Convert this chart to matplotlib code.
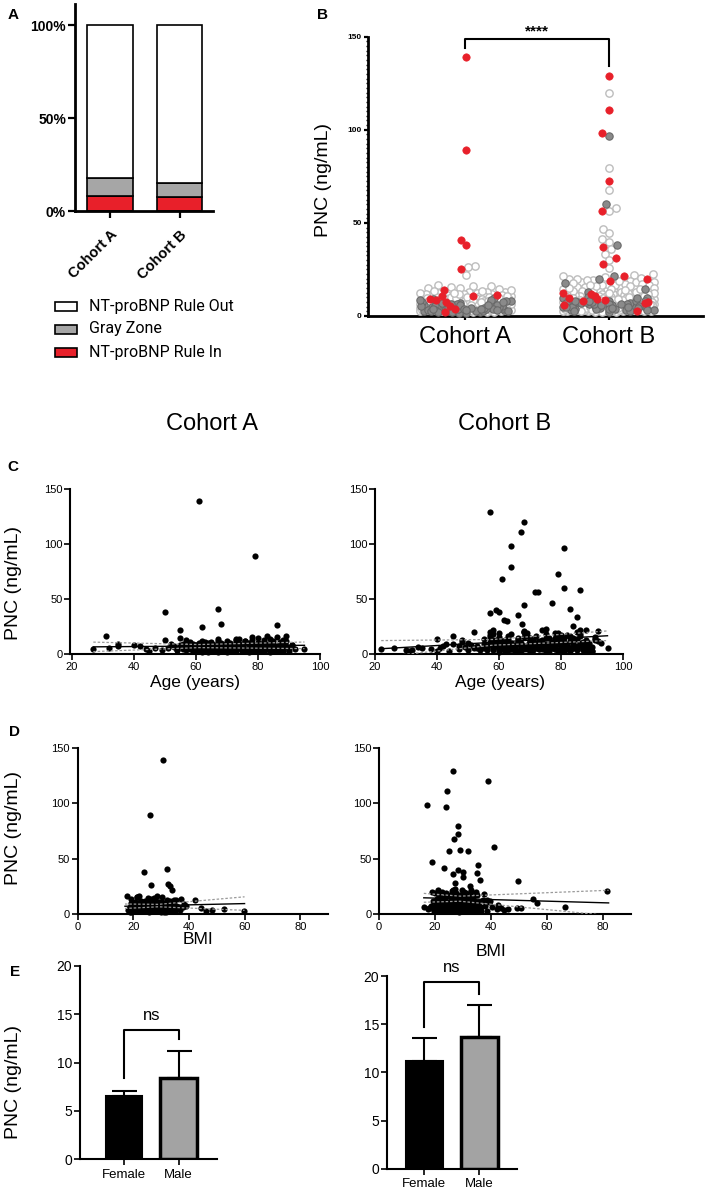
import numpy as np
import matplotlib

matplotlib.use("Agg")
import matplotlib.pyplot as plt
from matplotlib.patches import Rectangle
from matplotlib.ticker import MultipleLocator

plt.rcParams["font.family"] = ["Liberation Sans", "DejaVu Sans"]

# ---- panel A: NT-proBNP categories (% of cohort)
cohorts = ["Cohort A", "Cohort B"]
rule_in = [8.0, 7.5]
gray_zone = [9.6, 7.3]
rule_out = [82.4, 85.2]
legend_labels = ["NT-proBNP Rule Out", "Gray Zone", "NT-proBNP Rule In"]

# ---- per-patient data, cohort A (PNC ng/mL, age, BMI, NT-proBNP group O/G/R)
pnc_a = [139, 89, 41, 38, 27, 26.5, 25, 22, 16.5, 16,
         16, 15.5, 15, 14, 13, 12.5, 12, 11.5, 11, 10.5,
         9.5, 8.2, 7.1, 4.2, 5.8, 6.9, 4.8, 2.3, 5.1, 3.9,
         9.1, 6.3, 3.2, 7.7, 12.8, 4.5, 8.9, 2.8, 6.1, 10.2,
         5.4, 3.6, 7.4, 9.8, 1.9, 5.9, 8.1, 4.1, 11.4, 6.6,
         3.3, 7.9, 5.2, 9.4, 2.6, 6.8, 4.4, 10.8, 5.6, 8.5,
         3.1, 7.2, 4.9, 9.9, 2.1, 6.4, 12.3, 4.7, 8.3, 3.5,
         5.5, 7.6, 10.1, 2.9, 6.2, 4.3, 8.7, 5.3, 3.8, 7.0,
         11.2, 2.5, 6.0, 12.9, 8.0, 5.0, 3.0, 4.0, 4.6, 2.7,
         9.6, 1.5, 6.7, 8.8, 3.4, 5.7, 7.3, 4.6, 9.3, 1.8,
         13.8, 10.6, 6.5, 3.7, 8.4, 5.2, 4.0, 2.2, 9.0, 7.8,
         5.3, 7.6, 3.9, 9.2, 4.4, 6.1, 2.8, 8.5, 5.0, 11.7,
         3.3, 6.9, 4.8, 10.4, 2.4, 7.2, 5.6, 13.2, 3.6, 8.0,
         6.3, 4.1, 9.7, 2.9, 5.8, 12.4, 7.4, 3.2, 6.6, 4.5,
         10.9, 5.1, 8.8, 2.6, 7.0, 4.2, 14.6, 6.0, 3.5, 9.0,
         5.4, 11.1, 4.7, 7.8, 2.0, 6.4, 8.3, 3.7, 15.2, 5.2,
         9.5, 4.0, 6.8, 3.0, 12.0, 7.5, 5.5, 2.7, 8.6, 4.6,
         10.0, 6.2, 3.4, 7.9, 5.9, 13.5, 4.3, 9.8, 6.7, 3.8,
         4.9, 7.3, 2.6, 9.1, 5.7, 3.4, 8.2, 6.0, 10.3, 4.2,
         6.7, 3.0, 8.9, 5.1, 11.6, 2.3, 7.0, 4.5, 9.6, 6.3,
         3.8, 8.4, 5.5, 2.9, 7.7, 4.0, 10.7, 6.5, 3.2, 8.0,
         5.9, 4.7, 9.3, 2.5, 6.9, 3.6, 7.5, 5.3, 12.2, 4.4]
age_a = [61, 79, 67, 50, 68, 86, 62, 55, 31, 89,
         83, 78, 55, 84, 50, 82, 76, 70, 65, 58,
         35, 40, 35, 27, 32, 42, 44, 45, 47, 49,
         52, 53, 54, 56, 57, 58, 59, 60, 60, 61,
         62, 63, 63, 64, 64, 65, 66, 66, 67, 68,
         69, 69, 70, 71, 71, 72, 72, 73, 74, 74,
         75, 75, 76, 77, 77, 78, 78, 79, 80, 80,
         81, 81, 82, 82, 83, 84, 85, 85, 86, 87,
         87, 88, 88, 88, 91, 95, 65, 70, 73, 79,
         68, 62, 57, 74, 66, 81, 60, 76, 84, 70,
         73, 63, 86, 59, 66, 77, 72, 67, 80, 55,
         51, 53, 54, 56, 57, 58, 59, 60, 61, 62,
         62, 63, 64, 65, 65, 66, 67, 67, 68, 69,
         70, 70, 71, 72, 73, 73, 74, 75, 75, 76,
         76, 77, 78, 78, 79, 79, 80, 80, 81, 81,
         82, 82, 83, 83, 84, 84, 85, 85, 86, 86,
         87, 87, 88, 88, 89, 89, 90, 90, 91, 92,
         58, 61, 64, 68, 71, 74, 77, 80, 83, 86,
         56, 59, 61, 63, 64, 66, 67, 69, 70, 71,
         72, 73, 74, 75, 76, 77, 78, 79, 80, 81,
         82, 83, 84, 85, 86, 87, 88, 89, 57, 60,
         62, 65, 68, 70, 73, 76, 79, 82, 85, 88]
bmi_a = [30.7, 25.9, 32.0, 23.7, 32.5, 26.3, 33.2, 33.8, 17.7, 22.0,
         28.5, 30.2, 21.4, 25.1, 35.2, 42.0, 27.3, 24.1, 29.0, 20.6,
         19.2, 26.7, 22.8, 18.5, 24.4, 28.8, 31.6, 23.5, 36.9, 27.8,
         25.4, 30.9, 22.1, 34.4, 26.0, 19.8, 29.5, 24.9, 37.8, 21.9,
         28.2, 33.0, 23.1, 26.6, 31.2, 18.9, 27.5, 35.7, 22.7, 29.9,
         25.2, 32.3, 20.4, 28.1, 24.0, 38.9, 27.0, 30.4, 23.8, 26.2,
         34.9, 21.2, 29.3, 25.7, 31.8, 22.5, 27.9, 19.5, 33.6, 26.4,
         24.6, 30.1, 28.7, 23.3, 36.1, 25.9, 29.6, 22.2, 27.1, 32.7,
         24.3, 30.6, 20.9, 26.8, 28.4, 44.3, 46.1, 48.2, 52.6, 59.8,
         23.6, 19.0, 26.9, 31.4, 28.3, 21.6, 35.3, 25.5, 27.4, 29.8,
         37.0, 24.7, 22.9, 33.9, 20.3, 30.0, 27.6, 25.8, 28.9, 23.0,
         24.2, 27.8, 21.5, 30.3, 19.6, 26.1, 33.4, 23.0, 28.9, 25.4,
         20.8, 31.7, 27.0, 22.6, 29.4, 24.8, 35.6, 26.3, 18.2, 28.1,
         23.7, 30.8, 21.9, 27.3, 25.0, 32.2, 19.9, 26.8, 29.7, 22.4,
         34.1, 24.5, 28.4, 20.3, 31.1, 25.7, 27.6, 23.4, 36.8, 26.0,
         22.0, 29.1, 24.0, 30.0, 18.7, 27.2, 25.3, 33.0, 21.2, 28.6,
         26.5, 23.9, 31.9, 20.1, 27.9, 24.6, 29.2, 22.8, 38.2, 25.9,
         21.7, 28.0, 26.7, 32.8, 23.2, 19.3, 30.6, 25.6, 27.4, 24.3,
         22.4, 27.1, 25.0, 29.7, 20.5, 31.3, 24.2, 26.9, 23.6, 28.3,
         30.9, 21.8, 27.6, 25.4, 33.2, 19.7, 26.1, 28.9, 24.7, 22.9,
         29.5, 25.8, 31.9, 23.1, 27.3, 20.9, 26.4, 30.2, 24.9, 28.6,
         22.3, 32.4, 25.6, 27.9, 21.3, 29.0, 24.1, 26.6, 34.7, 23.9]
grp_a = ("RRRROOROOO" "OOOROOORRR" "OOGOOOGOOO" "ROGROGOGOO" "GOOGOGOGOG"
         "OGOOGOGOGO" "GOGOGOOGOG" "OGOGOGOGOG" "OGOOGOOOOO" "OGOGOGOOOG"
         "OOGORRRROO" "OOGOOOGOOO" "OGOOOOOOGO" "OOOGOOOOOG" "OOOGOOOOGO"
         "OOOOGOOOOO" "OOOGOOOOGO" "OOOOOOGOOO" "OGOOGOOGOO" "OGOOOGOOOO"
         "GOOOOGOOGO" "OOGOOGOOOO")

# ---- per-patient data, cohort B
pnc_b = [128.9, 119.7, 110.9, 98.2, 96.6, 79.4, 72.5, 67.9, 60.0, 57.9,
         56.5, 56.4, 46.6, 44.5, 41.2, 39.7, 37.9, 37.0, 35.8, 33.3,
         31.0, 30.0, 27.7, 25.6, 22.0, 21.7, 21.5, 20.9, 19.9, 19.7,
         18.8, 17.5, 22.5, 20.0, 19.0, 18.0, 16.0, 15.5, 14.7, 13.7,
         13.5, 12.2, 11.8, 10.7, 9.8, 9.1, 8.6, 8.2, 7.7, 6.8,
         5.9, 2.7, 10.0, 6.5, 5.0, 5.2, 4.8, 5.1, 4.0, 2.5,
         3.5, 6.4, 5.3, 4.5, 3.0, 5.6, 7.0, 2.8, 9.5, 4.2,
         10.5, 6.1, 3.6, 8.0, 5.8, 7.5, 4.4, 9.0, 6.6, 3.2,
         11.0, 5.4, 8.7, 2.2, 7.3, 4.9, 12.5, 6.0, 3.8, 9.7,
         5.5, 7.8, 2.9, 10.3, 4.6, 6.9, 14.2, 3.4, 8.4, 5.7,
         11.6, 4.1, 7.1, 2.4, 9.3, 6.2, 13.1, 4.7, 8.9, 3.1,
         5.9, 10.8, 7.4, 4.3, 15.8, 6.3, 3.7, 9.9, 5.1, 12.0,
         7.9, 2.6, 6.7, 14.0, 4.5, 8.1, 3.9, 11.3, 5.0, 6.5,
         13.0, 17.0, 16.5, 18.5, 15.0, 12.8, 9.4, 14.5, 16.8, 11.9,
         6.2, 9.8, 4.1, 12.7, 7.5, 3.3, 15.4, 5.6, 8.9, 2.9,
         11.3, 6.8, 18.2, 4.6, 9.1, 13.9, 3.8, 7.2, 20.5, 5.3,
         10.6, 2.5, 8.3, 16.7, 6.0, 4.3, 12.1, 7.9, 3.1, 14.8,
         5.8, 9.4, 19.1, 6.5, 2.7, 11.8, 8.0, 4.9, 17.3, 7.0,
         3.6, 10.2, 5.1, 13.4, 8.6, 21.6, 4.0, 6.9, 12.9, 9.6,
         3.0, 15.9, 7.7, 5.4, 11.0, 2.3, 8.8, 18.8, 6.3, 4.4,
         14.1, 9.9, 3.5, 7.3, 16.2, 5.0, 10.9, 2.8, 12.3, 6.6,
         4.8, 20.1, 8.2, 3.9, 13.1, 7.4, 5.7, 17.9, 9.2, 2.6,
         11.5, 6.1, 14.4, 4.2, 8.5, 19.6, 3.2, 10.4, 7.1, 5.2,
         5.5, 8.7, 3.3, 11.4, 6.8, 4.1, 13.6, 7.2, 2.9, 9.5,
         6.1, 15.1, 4.7, 8.3, 3.6, 10.1, 5.9, 12.6, 7.6, 2.4,
         9.0, 4.9, 14.3, 6.4, 3.1, 8.1, 11.7, 5.2, 7.0, 16.4,
         4.3, 9.7, 6.6, 3.0, 12.4, 7.9, 5.0, 10.5, 2.7, 8.8]
age_b = [57, 68, 67, 64, 81, 64, 79, 61, 81, 86,
         71.5, 72.5, 77, 68, 83, 59, 60, 57, 66, 85,
         61.5, 62.5, 67.5, 84, 88, 74, 58, 92, 68, 57,
         60, 80, 75, 85, 79, 86, 45, 91, 84, 55,
         40, 66, 92, 70, 62, 75, 82, 69, 58, 73,
         77, 88, 93, 89, 87, 95, 22, 26, 30, 31,
         32, 34, 35, 38, 40, 41, 42, 44, 45, 47,
         48, 49, 50, 51, 52, 53, 54, 55, 56, 56,
         57, 58, 59, 60, 60, 61, 62, 63, 63, 64,
         65, 65, 66, 67, 68, 69, 70, 70, 71, 72,
         73, 74, 74, 75, 76, 77, 78, 78, 79, 80,
         80, 81, 82, 83, 83, 84, 85, 86, 87, 88,
         89, 89, 90, 91, 64, 73, 67, 59, 76, 82,
         71, 57, 63, 75, 66, 48, 43, 81, 69, 61,
         56, 57, 58, 58, 59, 60, 60, 61, 62, 62,
         63, 64, 64, 65, 66, 66, 67, 68, 68, 69,
         70, 70, 71, 72, 72, 73, 74, 74, 75, 76,
         76, 77, 78, 78, 79, 80, 80, 81, 82, 82,
         83, 84, 84, 85, 86, 86, 87, 88, 88, 89,
         90, 57, 59, 61, 63, 65, 67, 69, 71, 73,
         75, 77, 79, 81, 83, 85, 87, 89, 91, 60,
         64, 68, 72, 76, 80, 84, 88, 58, 62, 66,
         70, 74, 78, 82, 86, 52, 54, 50, 47, 53,
         55, 57, 58, 60, 61, 62, 63, 64, 65, 66,
         67, 68, 69, 70, 71, 72, 73, 74, 75, 76,
         77, 78, 79, 80, 81, 82, 83, 84, 85, 86,
         87, 88, 89, 90, 59, 65, 71, 77, 83, 87]
bmi_b = [26.4, 39.0, 24.4, 17.1, 24.0, 28.3, 28.3, 26.8, 41.1, 28.9,
         31.7, 25.1, 19.1, 35.5, 23.3, 28.3, 30.0, 35.1, 26.3, 30.0,
         36.2, 49.6, 27.2, 32.5, 21.0, 33.0, 29.5, 81.5, 22.5, 19.0,
         31.0, 24.5, 27.0, 34.5, 20.0, 37.5, 25.5, 28.0, 30.5, 55.0,
         22.0, 26.0, 29.0, 23.5, 32.0, 27.5, 21.5, 30.5, 25.0, 34.0,
         28.5, 24.0, 56.5, 66.3, 50.8, 49.4, 17.5, 20.0, 23.5, 19.5,
         21.0, 26.5, 24.5, 29.0, 31.0, 27.5, 22.5, 33.5, 25.0, 28.0,
         30.0, 23.0, 36.0, 26.5, 19.5, 31.5, 24.0, 27.0, 29.5, 22.0,
         34.5, 25.5, 20.5, 28.5, 38.0, 26.0, 23.5, 30.0, 32.5, 21.5,
         27.5, 25.0, 35.0, 29.0, 22.5, 26.5, 31.0, 24.5, 28.0, 33.0,
         20.5, 27.0, 25.5, 30.5, 23.0, 36.5, 26.0, 29.5, 22.0, 31.5,
         27.0, 24.5, 28.5, 34.0, 25.5, 21.0, 29.0, 32.0, 26.5, 23.5,
         30.5, 27.5, 22.5, 33.5, 46.0, 42.5, 44.5, 39.5, 18.0, 16.0,
         38.5, 26.5, 29.0, 24.0, 32.5, 27.0, 30.0, 22.0, 35.0, 20.0,
         25.3, 29.8, 22.1, 33.6, 27.4, 19.8, 31.2, 24.6, 28.0, 36.4,
         21.5, 26.9, 30.7, 23.8, 34.9, 27.1, 20.4, 29.3, 25.9, 32.5,
         22.7, 38.6, 26.2, 28.8, 24.0, 31.6, 19.2, 27.7, 35.3, 23.1,
         29.0, 25.5, 21.8, 33.1, 26.6, 30.3, 24.3, 42.0, 27.9, 22.4,
         31.9, 25.1, 28.5, 20.7, 34.2, 26.4, 29.6, 23.5, 37.1, 27.0,
         24.9, 30.9, 21.1, 28.3, 25.7, 33.8, 22.9, 27.6, 40.3, 24.2,
         29.4, 26.0, 31.4, 18.6, 28.1, 23.3, 35.8, 25.8, 30.1, 27.3,
         21.4, 32.9, 26.7, 24.5, 29.9, 22.2, 43.5, 27.5, 25.2, 31.0,
         23.6, 28.7, 20.9, 34.6, 26.3, 30.5, 24.8, 39.2, 27.8, 22.6,
         24.1, 28.6, 21.9, 31.8, 26.2, 23.4, 29.9, 25.6, 33.3, 22.8,
         27.8, 30.4, 24.7, 20.2, 28.2, 26.9, 35.1, 23.0, 29.1, 25.3,
         31.3, 22.5, 27.2, 24.4, 30.0, 26.1, 21.6, 28.9, 33.7, 25.0,
         23.7, 29.5, 27.0, 20.6, 32.0, 24.8, 26.5, 28.4, 22.1, 30.7]
grp_b = ("RORRGOROGO" "ROOOOOGROO" "ROROOGRORG" "RGOOOOOOGO" "ORRRRRRRRR"
         "RROOOOOOGO" "OOGOOOGOOG" "OOGOOGOOGO" "OGOGOGOGOG" "OGOOGOOGOG"
         "OOGOGOOGOG" "OOGOOGOOGO" "OGOOOGOOOG" "OOOOOOOOOO" "OGOOOGOOOO"
         "OOOGOOOOOG" "OOGOOOOGOO" "OOOOGOOOOO" "GOOOOOOGOO" "OOOGOOOOGO"
         "OOGOOOOOOG" "OOOOGOOOOO" "OGOOOOOGOO" "OOGOOGOOOG" "OOOGOOOOGO"
         "OGOOOGOOOO" "GOOOOOGOOO")

# ---- linear fits with 95% bands (panels C and D)
fit_age_a_x = [27, 61, 95]
fit_age_a_y = [6.5, 7.2, 7.9]
fit_age_a_hi = [10.8, 8.6, 10.9]
fit_age_a_lo = [2.2, 5.8, 4.9]
fit_age_b_x = [22, 58, 95]
fit_age_b_y = [4.8, 10.6, 16.6]
fit_age_b_hi = [12.2, 13.2, 21.0]
fit_age_b_lo = [-2.6, 8.0, 12.2]
fit_bmi_a_x = [17, 29, 60]
fit_bmi_a_y = [7.0, 7.6, 9.4]
fit_bmi_a_hi = [9.0, 8.7, 15.5]
fit_bmi_a_lo = [5.0, 6.5, 3.3]
fit_bmi_b_x = [16, 29, 82]
fit_bmi_b_y = [14.6, 13.8, 10.0]
fit_bmi_b_hi = [18.6, 16.1, 21.4]
fit_bmi_b_lo = [10.6, 11.5, -1.4]

# ---- panel E: PNC by sex (mean, SEM)
sexes = ["Female", "Male"]
sex_mean_a = [6.5, 8.45]
sex_err_a = [0.6, 2.75]
sex_mean_b = [11.2, 13.7]
sex_err_b = [2.4, 3.3]

RED = "#e8202a"
GREY = "#a6a6a6"

W, H = 709, 1196


def rect(l, t, r, b):
    return [l / W, 1 - b / H, (r - l) / W, (b - t) / H]


def style(ax, lw=1.5, size=8, length=4):
    for s in ("top", "right"):
        ax.spines[s].set_visible(False)
    for s in ("left", "bottom"):
        ax.spines[s].set_linewidth(lw)
    ax.tick_params(direction="out", length=length, width=lw * 0.8,
                   labelsize=size, pad=1.5)


def swarm_offsets(vals, xppu, yppu, diam, maxw):
    """Simple beeswarm: nearest free horizontal slot, overlap once full."""
    vals = np.asarray(vals, float)
    out = np.zeros(len(vals))
    cand = np.arange(-maxw * xppu, maxw * xppu + 0.01, 1.0)
    cand = cand[np.argsort(np.abs(cand), kind="stable")]
    px, py = [], []
    for i in np.argsort(vals, kind="stable"):
        y = vals[i] * yppu
        if px:
            d = np.hypot(cand[:, None] - np.array(px)[None, :],
                         y - np.array(py)[None, :]).min(axis=1)
            ok = np.nonzero(d >= diam)[0]
            j = ok[0] if len(ok) else int(np.argmax(d))
        else:
            j = 0
        px.append(cand[j])
        py.append(y)
        out[i] = cand[j] / xppu
    return out


fig = plt.figure(figsize=(W / 100, H / 100), dpi=100)

# ---------------- A
ax = fig.add_axes(rect(75, 4, 213, 211))
xa = np.arange(len(cohorts))
bottom = np.zeros(len(cohorts))
for vals, col in zip([rule_in, gray_zone, rule_out], [RED, GREY, "white"]):
    ax.bar(xa, vals, bottom=bottom, width=0.66, color=col, edgecolor="black", lw=1.2)
    bottom += np.array(vals)
ax.set_xlim(-0.504, 1.482)
ax.set_ylim(0, 111.3)
style(ax, lw=2, size=10, length=5)
ax.set_yticks([0, 50, 100], ["0%", "50%", "100%"], fontweight="bold")
ax.set_xticks(xa, cohorts, rotation=45, ha="right", rotation_mode="anchor",
              fontweight="bold", fontsize=10.5)
ax.tick_params(axis="x", pad=7)

lg = fig.add_axes(rect(40, 290, 260, 365))
lg.axis("off")
lg.set_xlim(40, 260)
lg.set_ylim(365, 290)
for i, (lab, col) in enumerate(zip(legend_labels, ["white", GREY, RED])):
    y = 306 + 23 * i
    lg.add_patch(Rectangle((55, y - 4.5), 22, 9, facecolor=col, edgecolor="black", lw=1.2))
    lg.text(89, y, lab, va="center", ha="left", fontsize=11.5, family="Roboto")

# ---------------- B
ax = fig.add_axes(rect(368, 36.7, 703, 316))
ax.set_xlim(-0.68, 1.66)
ax.set_ylim(0, 150)
styles = {
    "O": dict(facecolor="white", edgecolor="#bdbdbd", linewidths=1.0, zorder=3),
    "G": dict(facecolor="#8a8a8a", edgecolor="#6a6a6a", linewidths=0.8, zorder=4),
    "R": dict(facecolor=RED, edgecolor=RED, linewidths=0.5, zorder=5),
}
for k, (pnc, grp) in enumerate([(pnc_a, grp_a), (pnc_b, grp_b)]):
    pnc = np.array(pnc, float)
    xs = k + swarm_offsets(pnc, 143, 1.862, 7.0, 0.32)
    for g, kw in styles.items():
        m = np.array([c == g for c in grp])
        ax.scatter(xs[m], pnc[m], s=28, clip_on=False, **kw)
style(ax, lw=2, size=6, length=3)
ax.set_yticks([0, 50, 100, 150])
ax.yaxis.set_minor_locator(MultipleLocator(2.5))
ax.tick_params(axis="y", which="minor", length=1.8, width=1)
for t in ax.get_yticklabels():
    t.set_fontweight("bold")
ax.set_xticks([0, 1], cohorts)
ax.tick_params(axis="x", labelsize=17, pad=4)
ax.plot([0, 0, 1, 1], [144, 149, 149, 134], color="black", lw=1.5, clip_on=False)
ax.text(0.5, 153, "****", ha="center", va="center", fontsize=11, fontweight="bold")
fig.text(323 / W, 1 - 180 / H, "PNC (ng/mL)", rotation=90, ha="center", va="center", fontsize=14)

# ---------------- column titles
fig.text(212 / W, 1 - 424 / H, "Cohort A", ha="center", va="center", fontsize=17)
fig.text(505 / W, 1 - 424 / H, "Cohort B", ha="center", va="center", fontsize=17)


def scatter_panel(box, xv, yv, fx, fy, fhi, flo, xlim, xticks):
    ax = fig.add_axes(rect(*box))
    ax.scatter(xv, yv, s=20, color="black", linewidths=0, zorder=3, clip_on=False)
    ax.plot(fx, fy, color="black", lw=1, zorder=4)
    ax.plot(fx, fhi, color="#9a9a9a", lw=0.9, ls=(0, (2, 1.5)), zorder=4)
    ax.plot(fx, flo, color="#9a9a9a", lw=0.9, ls=(0, (2, 1.5)), zorder=4)
    ax.set_xlim(*xlim)
    ax.set_ylim(0, 150)
    ax.set_xticks(xticks)
    ax.set_yticks([0, 50, 100, 150])
    style(ax)
    return ax


# ---------------- C
scatter_panel((70, 489, 320, 654), age_a, pnc_a, fit_age_a_x, fit_age_a_y,
              fit_age_a_hi, fit_age_a_lo, (19.5, 100), [20, 40, 60, 80, 100])
scatter_panel((375, 489, 623, 654), age_b, pnc_b, fit_age_b_x, fit_age_b_y,
              fit_age_b_hi, fit_age_b_lo, (20, 100), [20, 40, 60, 80, 100])
fig.text(195 / W, 1 - 683 / H, "Age (years)", ha="center", va="center", fontsize=12.5)
fig.text(500 / W, 1 - 683 / H, "Age (years)", ha="center", va="center", fontsize=12.5)
fig.text(14 / W, 1 - 583 / H, "PNC (ng/mL)", rotation=90, ha="center", va="center", fontsize=14)

# ---------------- D
scatter_panel((77.7, 747.7, 328, 914), bmi_a, pnc_a, fit_bmi_a_x, fit_bmi_a_y,
              fit_bmi_a_hi, fit_bmi_a_lo, (0, 90), [0, 20, 40, 60, 80])
scatter_panel((379, 747.7, 631, 914), bmi_b, pnc_b, fit_bmi_b_x, fit_bmi_b_y,
              fit_bmi_b_hi, fit_bmi_b_lo, (0, 90), [0, 20, 40, 60, 80])
fig.text(198 / W, 1 - 940 / H, "BMI", ha="center", va="center", fontsize=12.5)
fig.text(491 / W, 1 - 951 / H, "BMI", ha="center", va="center", fontsize=12.5)
fig.text(14 / W, 1 - 828 / H, "PNC (ng/mL)", rotation=90, ha="center", va="center", fontsize=14)


# ---------------- E
def sex_panel(box, mean, err, xlim, top, left_leg, right_leg, ns_y):
    ax = fig.add_axes(rect(*box))
    xe = np.arange(len(sexes))
    ax.errorbar(xe, mean, yerr=[np.zeros(len(err)), err], fmt="none", ecolor="black",
                elinewidth=1.5, capsize=9, capthick=1.5, zorder=2)
    ax.bar(xe[0], mean[0], width=0.67, color="black", edgecolor="black", lw=1.5, zorder=3)
    ax.bar(xe[1], mean[1], width=0.67, color="#a3a3a3", edgecolor="black", lw=2.5, zorder=3)
    ax.plot([0, 0, 1, 1], [left_leg, top, top, right_leg], color="black", lw=1.5, clip_on=False)
    ax.text(0.5, ns_y, "ns", ha="center", va="center", fontsize=12, clip_on=False)
    ax.set_xlim(*xlim)
    ax.set_ylim(0, 20)
    ax.set_yticks([0, 5, 10, 15, 20])
    style(ax, size=10)
    ax.set_xticks(xe, sexes)
    ax.tick_params(axis="x", labelsize=9.5, pad=3)
    return ax


sex_panel((80, 965.7, 216.7, 1159.3), sex_mean_a, sex_err_a, (-0.81, 1.70),
          13.36, 8.4, 12.4, 14.9)
sex_panel((386.7, 976, 516.7, 1168.7), sex_mean_b, sex_err_b, (-0.68, 1.68),
          19.4, 14.7, 18.1, 20.9)
fig.text(14 / W, 1 - 1082 / H, "PNC (ng/mL)", rotation=90, ha="center", va="center", fontsize=14)

# ---------------- panel letters
for lab, x, y in [("A", 13, 15), ("B", 323, 15), ("C", 13, 467), ("D", 15, 732), ("E", 15, 972)]:
    fig.text(x / W, 1 - y / H, lab, ha="center", va="center", fontsize=11, fontweight="bold")

fig.savefig("out.png", dpi=100)
